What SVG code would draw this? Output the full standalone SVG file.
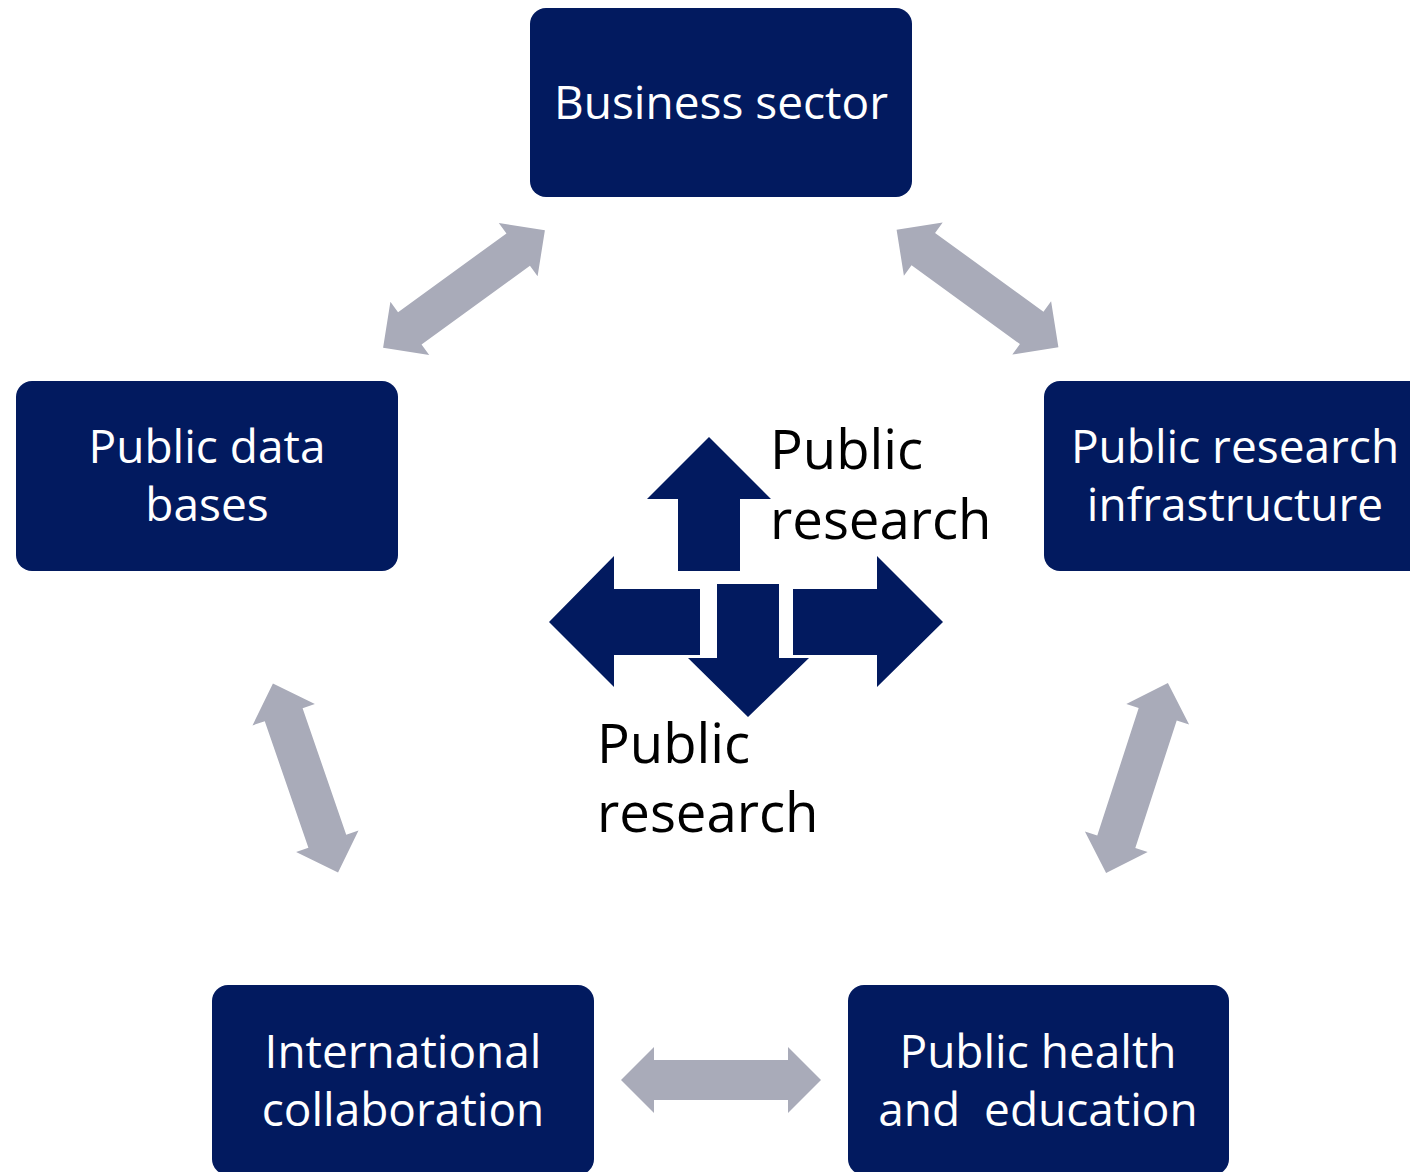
<svg xmlns="http://www.w3.org/2000/svg" width="1410" height="1172" viewBox="0 0 1410 1172">
<style>
.node rect{fill:#021A5F;}
.nt{fill:#FFFFFF;font-family:"Open Sans","Noto Sans",sans-serif;font-size:46px;text-anchor:middle;white-space:pre;}
.lbl{fill:#000000;font-family:"Open Sans","Noto Sans",sans-serif;font-size:54.5px;}
.grey{fill:#A9ABB9;}
.blue{fill:#021A5F;}
</style>
<defs>
<path id="dbl" d="M-100,0 L-67,-33 L-67,-20 L67,-20 L67,-33 L100,0 L67,33 L67,20 L-67,20 L-67,33 Z"/>
</defs>
<rect width="1410" height="1172" fill="#FFFFFF"/>
<g id="connectors">
<use href="#dbl" class="grey" transform="translate(464,289) rotate(-36)"/>
<use href="#dbl" class="grey" transform="translate(977.5,288.5) rotate(36)"/>
<use href="#dbl" class="grey" transform="translate(305.5,778) rotate(71)"/>
<use href="#dbl" class="grey" transform="translate(1137,778) rotate(-72)"/>
<use href="#dbl" class="grey" transform="translate(721,1080)"/>
</g>
<g id="center-arrows">
<path class="blue" d="M709,437 L771,499 L740,499 L740,571 L678,571 L678,499 L647,499 Z"/>
<path class="blue" d="M717,584 L779,584 L779,658 L809,658 L748,717 L688,658 L717,658 Z"/>
<path class="blue" d="M549,622 L614,556 L614,589 L700,589 L700,655 L614,655 L614,687 Z"/>
<path class="blue" d="M943,622 L877,556 L877,589 L793,589 L793,655 L877,655 L877,687 Z"/>
</g>
<g id="label-top">
<text class="lbl" x="770" y="469">Public</text>
<text class="lbl" x="770" y="539">research</text>
</g>
<g id="label-bottom">
<text class="lbl" x="597" y="763">Public</text>
<text class="lbl" x="597" y="832">research</text>
</g>
<g id="business-sector" class="node">
<rect x="530" y="8" width="382" height="189" rx="16"/>
<text class="nt" x="721" y="119">Business sector</text>
</g>
<g id="public-data-bases" class="node">
<rect x="16" y="381" width="382" height="190" rx="16"/>
<text class="nt" x="207" y="463">Public data</text>
<text class="nt" x="207" y="521">bases</text>
</g>
<g id="public-research-infrastructure" class="node">
<rect x="1044" y="381" width="382" height="190" rx="16"/>
<text class="nt" x="1235" y="463">Public research</text>
<text class="nt" x="1235" y="521">infrastructure</text>
</g>
<g id="international-collaboration" class="node">
<rect x="212" y="985" width="382" height="190" rx="16"/>
<text class="nt" x="403" y="1068">International</text>
<text class="nt" x="403" y="1126">collaboration</text>
</g>
<g id="public-health-education" class="node">
<rect x="848" y="985" width="381" height="190" rx="16"/>
<text class="nt" x="1038" y="1068">Public health</text>
<text class="nt" x="1038" y="1126">and  education</text>
</g>
</svg>
